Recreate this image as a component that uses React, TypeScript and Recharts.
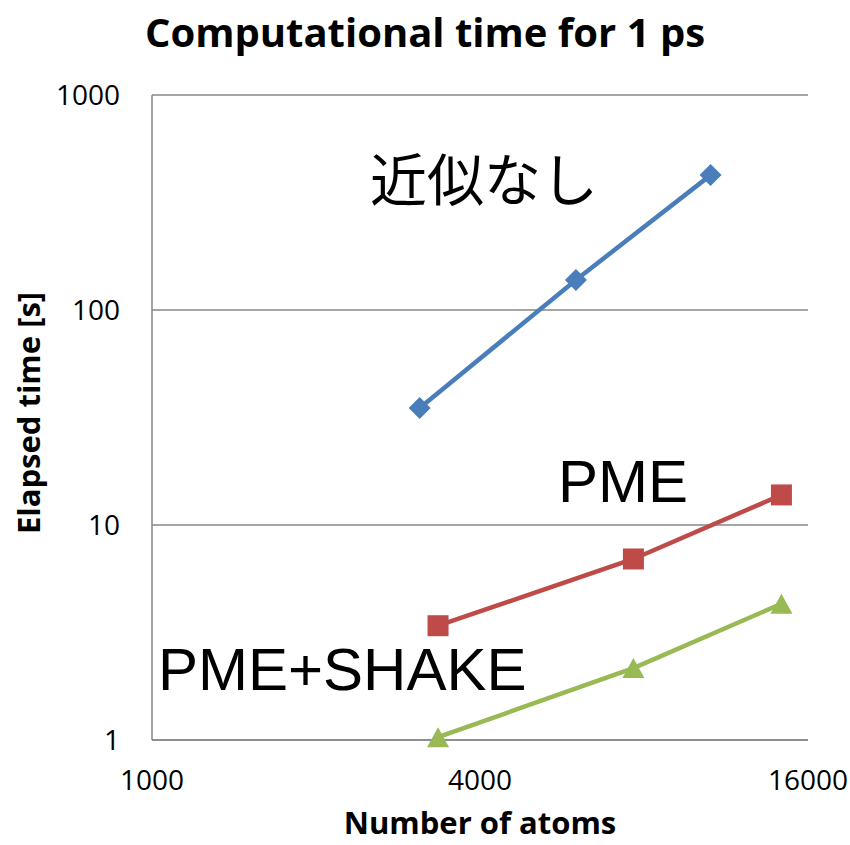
import React from 'react';
import { ScatterChart, Scatter, XAxis, YAxis, CartesianGrid } from 'recharts';

// series: atoms (x) vs elapsed seconds (y)
const noApproxAtoms = [3100, 6000, 10600];
const noApproxTime = [35, 138, 424];
const pmeAtoms = [3350, 7650, 14300];
const pmeTime = [3.4, 6.95, 13.8];
const shakeAtoms = [3350, 7650, 14300];
const shakeTime = [1.03, 2.16, 4.3];

const xTicks = [1000, 4000, 16000];
const yTicks = [1, 10, 100, 1000];

const BLUE = '#4A7EBB';
const RED = '#BE4B48';
const GREEN = '#98B954';
const GRID = '#878787';

const toPoints = (xs: number[], ys: number[]) => xs.map((x, i) => ({ x, y: ys[i] }));

const Diamond = (props: any) => {
  const { cx, cy } = props;
  const r = 11;
  return <polygon points={`${cx},${cy - r} ${cx + r},${cy} ${cx},${cy + r} ${cx - r},${cy}`} fill={BLUE} />;
};

const Square = (props: any) => {
  const { cx, cy } = props;
  return <rect x={cx - 10.5} y={cy - 10.5} width={21} height={21} fill={RED} />;
};

const Triangle = (props: any) => {
  const { cx, cy } = props;
  return <polygon points={`${cx},${cy - 10} ${cx + 11},${cy + 10} ${cx - 11},${cy + 10}`} fill={GREEN} />;
};

const tickStyle = { fontSize: 28, fill: '#000', fontFamily: 'Open Sans' };
const bold = { fontFamily: 'Open Sans', fontWeight: 700, color: '#000', lineHeight: 1 };
const big = { fontFamily: 'Liberation Sans', color: '#000', lineHeight: 1 };

export default function App() {
  return (
    <div style={{ position: 'absolute', top: 0, left: 0, width: 850, height: 845, background: '#fff' }}>
      <ScatterChart width={850} height={845} margin={{ top: 95, right: 42, bottom: 0, left: 0 }}>
        <CartesianGrid vertical={false} stroke={GRID} strokeWidth={1.5} />
        <XAxis
          type="number"
          dataKey="x"
          scale="log"
          domain={[1000, 16000]}
          ticks={xTicks}
          tickFormatter={(v) => String(v)}
          height={105}
          tickSize={0}
          tickMargin={30}
          tick={tickStyle}
          axisLine={{ stroke: GRID, strokeWidth: 1.5 }}
        />
        <YAxis
          type="number"
          dataKey="y"
          scale="log"
          domain={[1, 1000]}
          ticks={yTicks}
          tickFormatter={(v) => String(v)}
          width={152}
          tickSize={0}
          tickMargin={32}
          tick={tickStyle}
          axisLine={{ stroke: GRID, strokeWidth: 1.5 }}
        />
        <Scatter
          data={toPoints(noApproxAtoms, noApproxTime)}
          line={{ stroke: BLUE, strokeWidth: 4.5 }}
          shape={Diamond}
          fill={BLUE}
          isAnimationActive={false}
        />
        <Scatter
          data={toPoints(pmeAtoms, pmeTime)}
          line={{ stroke: RED, strokeWidth: 4.5 }}
          shape={Square}
          fill={RED}
          isAnimationActive={false}
        />
        <Scatter
          data={toPoints(shakeAtoms, shakeTime)}
          line={{ stroke: GREEN, strokeWidth: 4.5 }}
          shape={Triangle}
          fill={GREEN}
          isAnimationActive={false}
        />
      </ScatterChart>

      <div style={{ ...bold, position: 'absolute', top: 12, left: 0, width: 850, textAlign: 'center', fontSize: 40 }}>
        Computational time for 1 ps
      </div>
      <div style={{ ...bold, position: 'absolute', top: 807, left: 152, width: 656, textAlign: 'center', fontSize: 31 }}>
        Number of atoms
      </div>
      <div
        style={{
          ...bold,
          position: 'absolute',
          left: 28,
          top: 413,
          fontSize: 31,
          whiteSpace: 'nowrap',
          transform: 'translate(-50%, -50%) rotate(-90deg)',
        }}
      >
        Elapsed time [s]
      </div>

      <div style={{ ...big, position: 'absolute', left: 370, top: 148, fontSize: 57, fontFamily: 'Noto Sans CJK JP' }}>
        近似なし
      </div>
      <div style={{ ...big, position: 'absolute', left: 558, top: 452, fontSize: 60 }}>PME</div>
      <div style={{ ...big, position: 'absolute', left: 158, top: 640, fontSize: 60 }}>PME+SHAKE</div>
    </div>
  );
}
